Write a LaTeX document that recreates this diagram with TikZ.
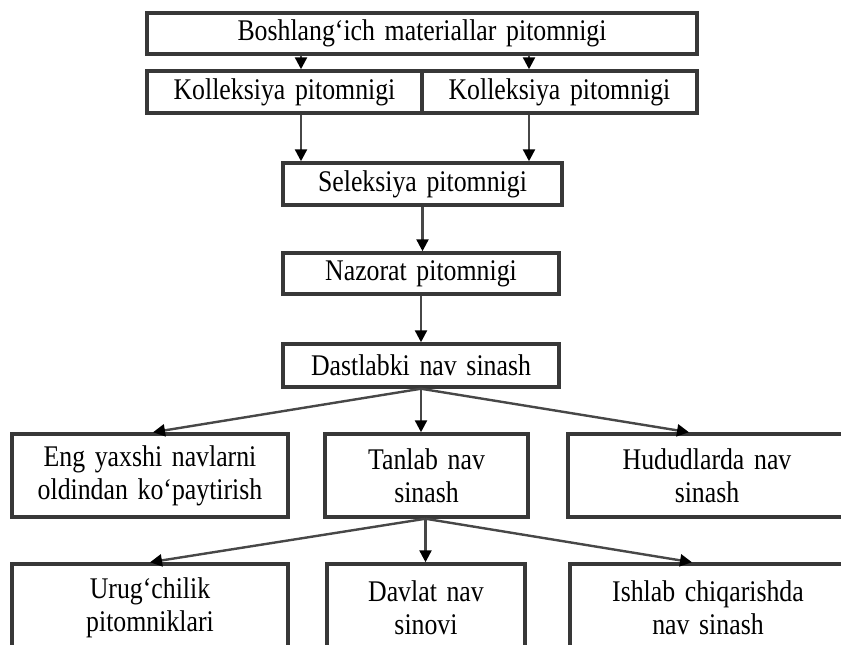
\documentclass[tikz,border=0pt]{standalone}
\usepackage{fontspec}
\setmainfont{Liberation Serif}[FakeStretch=0.86,WordSpace=1.5]
\usetikzlibrary{arrows.meta,calc}
\begin{document}
\begin{tikzpicture}[x=0.75pt,y=-0.75pt,
  box/.style={draw=black!78, line width=2.6pt, fill=white, inner sep=0pt, align=center,
    font=\fontsize{22.5}{25}\selectfont},
  arr/.style={draw=black!72, line width=1.8pt, -{Triangle[length=9pt,width=9pt,black]}}]
\useasboundingbox (0,0) rectangle (841,645);
\clip (0,0) rectangle (841,645);
\coordinate (cL) at (301,0);
\coordinate (cR) at (529,0);
\node[box, minimum width=412.5pt, minimum height=30.75pt] (top) at (422,33.5) {Boshlang‘ich materiallar pitomnigi};
\node[box, minimum width=206.25pt, minimum height=31.5pt] (k1) at (284.5,92) {Kolleksiya pitomnigi};
\node[box, minimum width=206.25pt, minimum height=31.5pt] (k2) at (559.5,92) {Kolleksiya pitomnigi};
\node[box, minimum width=209.25pt, minimum height=31.5pt] (sel) at (422.5,184) {Seleksiya pitomnigi};
\node[box, minimum width=207pt, minimum height=30.75pt] (naz) at (421,273.5) {Nazorat pitomnigi};
\node[box, minimum width=207pt, minimum height=32.25pt] (dast) at (421,365.5) {Dastlabki nav sinash};
\node[box, minimum width=207pt, minimum height=62.25pt] (eng) at (150,475.5) {Eng yaxshi navlarni\\oldindan ko‘paytirish};
\node[box, minimum width=152.25pt, minimum height=62.25pt] (tan) at (426.5,475.5) {Tanlab nav\\sinash};
\node[box, minimum width=208.5pt, minimum height=62.25pt] (hud) at (707,475.5) {Hududlarda nav\\sinash};
\node[box, minimum width=207pt, minimum height=66pt] (uru) at (150,608) {Urug‘chilik\\pitomniklari};
\node[box, minimum width=148.5pt, minimum height=66pt] (dav) at (426,608) {Davlat nav\\sinovi};
\node[box, minimum width=207pt, minimum height=66pt] (ish) at (708,608) {Ishlab chiqarishda\\nav sinash};
\coordinate (ts) at ($(tan.south)+(-1,0)$);
\draw[arr] (top.south -| cL) -- (k1.north -| cL);
\draw[arr] (top.south -| cR) -- (k2.north -| cR);
\draw[arr] (k1.south -| cL) -- (sel.north -| cL);
\draw[arr] (k2.south -| cR) -- (sel.north -| cR);
\draw[arr] (sel.south) -- (sel.south |- naz.north);
\draw[arr] (naz.south) -- (naz.south |- dast.north);
\draw[arr] (dast.south) -- ($(eng.north)+(3,0)$);
\draw[arr] (dast.south) -- (dast.south |- tan.north);
\draw[arr] (dast.south) -- ($(hud.north)+(-18,0)$);
\draw[arr] (ts) -- (uru.north);
\draw[arr] (ts) -- (ts |- dav.north);
\draw[arr] (ts) -- ($(ish.north)+(-16,0)$);
\end{tikzpicture}
\end{document}
